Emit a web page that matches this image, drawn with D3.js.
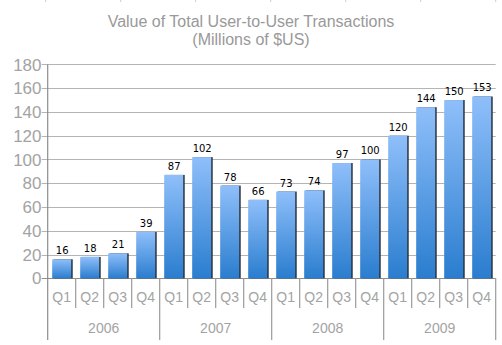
<!DOCTYPE html>
<html>
<head>
<meta charset="utf-8">
<script src="https://cdn.jsdelivr.net/npm/d3@7"></script>
<style>
  body { margin: 0; background: #fff; }
  svg { display: block; }
</style>
</head>
<body>
<svg id="chart" width="502" height="345"></svg>
<script>
const years = ['2006', '2007', '2008', '2009']
const quarters = ['Q1', 'Q2', 'Q3', 'Q4']
const values = [16, 18, 21, 39, 87, 102, 78, 66, 73, 74, 97, 100, 120, 144, 150, 153]
const yTicks = [0, 20, 40, 60, 80, 100, 120, 140, 160, 180]

const plotLeft = 47.7
const plotRight = 495.7
const plotTop = 64.4
const plotBottom = 278.3
const grey = '#a3a3a3'

const svg = d3.select('#chart')

const cats = d3.range(values.length)

const x = d3.scaleBand()
  .domain(cats)
  .range([plotLeft, plotRight])
  .paddingInner(0.32)
  .paddingOuter(0.16)

const y = d3.scaleLinear()
  .domain([0, 180])
  .range([plotBottom, plotTop])

const step = x.step()

// faint marks along the top edge
svg.append('g')
  .selectAll('line')
  .data(d3.range(7))
  .enter().append('line')
  .attr('x1', i => 45.7 + i * 75)
  .attr('x2', i => 45.7 + i * 75)
  .attr('y1', 0)
  .attr('y2', 2)
  .attr('stroke', '#ccc')

// title
svg.append('text')
  .attr('x', 251)
  .attr('y', 27)
  .attr('text-anchor', 'middle')
  .style('font', '16px "Liberation Sans", Arial, sans-serif')
  .attr('fill', '#999')
  .text('Value of Total User-to-User Transactions')

svg.append('text')
  .attr('x', 251)
  .attr('y', 45)
  .attr('text-anchor', 'middle')
  .style('font', '16px "Liberation Sans", Arial, sans-serif')
  .attr('fill', '#999')
  .text('(Millions of $US)')

// gridlines
svg.append('g')
  .selectAll('line')
  .data(yTicks)
  .enter().append('line')
  .attr('x1', plotLeft - 6)
  .attr('x2', plotRight)
  .attr('y1', d => Math.round(y(d)) + 0.5)
  .attr('y2', d => Math.round(y(d)) + 0.5)
  .attr('stroke', d => d === 0 ? '#8c8c8c' : '#b4b4b4')
  .attr('stroke-width', 1.2)

// y labels
svg.append('g')
  .selectAll('text')
  .data(yTicks)
  .enter().append('text')
  .attr('x', 41.5)
  .attr('y', d => y(d))
  .attr('dy', '0.36em')
  .attr('text-anchor', 'end')
  .style('font', '17px "Liberation Sans", Arial, sans-serif')
  .attr('fill', grey)
  .text(d => d)

// bars
const grad = svg.append('defs').append('linearGradient')
  .attr('id', 'barfill')
  .attr('x1', 0).attr('y1', 0).attr('x2', 0).attr('y2', 1)
grad.append('stop').attr('offset', '0%').attr('stop-color', '#8fbffa')
grad.append('stop').attr('offset', '100%').attr('stop-color', '#2a7dcf')

const bars = svg.append('g')
  .selectAll('g')
  .data(cats)
  .enter().append('g')

bars.append('rect')
  .attr('x', i => x(i) + 1.5)
  .attr('y', i => y(values[i]))
  .attr('width', x.bandwidth())
  .attr('height', i => plotBottom - y(values[i]))
  .attr('fill', '#2a3440')

bars.append('rect')
  .attr('x', i => x(i))
  .attr('y', i => y(values[i]))
  .attr('width', x.bandwidth())
  .attr('height', i => plotBottom - y(values[i]))
  .attr('fill', 'url(#barfill)')

bars.append('text')
  .attr('x', i => x(i) + x.bandwidth() / 2 + 0.5)
  .attr('y', i => y(values[i]) - 5)
  .attr('text-anchor', 'middle')
  .style('font', '10px "DejaVu Sans", sans-serif')
  .attr('fill', '#000')
  .text(i => values[i])

// y axis line
svg.append('line')
  .attr('x1', plotLeft).attr('x2', plotLeft)
  .attr('y1', plotTop).attr('y2', 340)
  .attr('stroke', '#8c8c8c')
  .attr('stroke-width', 1.2)

// category separators
svg.append('g')
  .selectAll('line')
  .data(d3.range(1, values.length + 1))
  .enter().append('line')
  .attr('x1', i => plotLeft + i * step)
  .attr('x2', i => plotLeft + i * step)
  .attr('y1', plotBottom)
  .attr('y2', i => i % 4 === 0 ? 340 : 308)
  .attr('stroke', '#9a9a9a')
  .attr('stroke-width', 1.2)

// quarter labels
svg.append('g')
  .selectAll('text')
  .data(cats)
  .enter().append('text')
  .attr('x', i => x(i) + x.bandwidth() / 2)
  .attr('y', 297)
  .attr('dy', '0.36em')
  .attr('text-anchor', 'middle')
  .style('font', '14px "Liberation Sans", Arial, sans-serif')
  .attr('fill', grey)
  .text(i => quarters[i % 4])

// year labels
svg.append('g')
  .selectAll('text')
  .data(years)
  .enter().append('text')
  .attr('x', (d, i) => plotLeft + (i * 4 + 2) * step)
  .attr('y', 328)
  .attr('dy', '0.36em')
  .attr('text-anchor', 'middle')
  .style('font', '14px "Liberation Sans", Arial, sans-serif')
  .attr('fill', grey)
  .text(d => d)
</script>
</body>
</html>
